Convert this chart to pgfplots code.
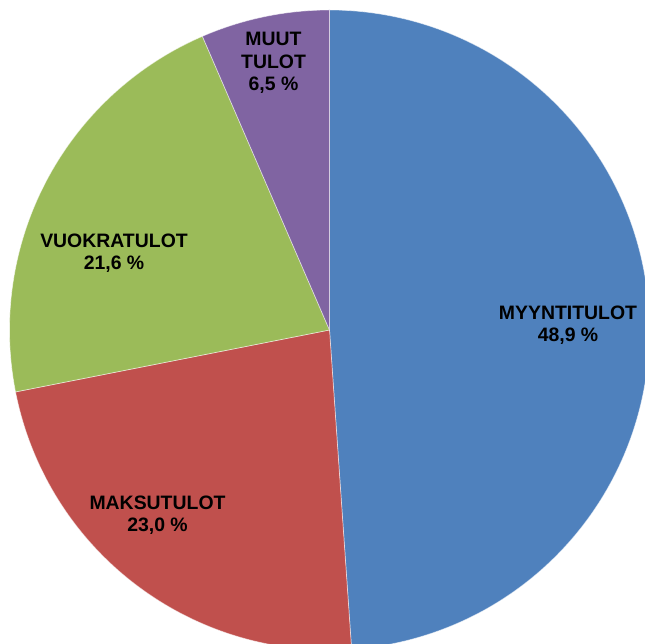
\documentclass[border=0pt]{standalone}
\usepackage{fontspec}
\setmainfont{Liberation Sans}
\usepackage{pgfplots}
\pgfplotsset{compat=1.18}
\definecolor{pieblue}{HTML}{4F81BD}
\definecolor{piered}{HTML}{C0504D}
\definecolor{piegreen}{HTML}{9BBB59}
\definecolor{piepurple}{HTML}{8064A2}
% slice values (percent)
\def\vA{48.9}% MYYNTITULOT
\def\vB{23.0}% MAKSUTULOT
\def\vC{21.6}% VUOKRATULOT
\def\vD{6.5}%  MUUT TULOT
\begin{document}
\begin{tikzpicture}
\pgfmathsetmacro{\aA}{90}
\pgfmathsetmacro{\aB}{\aA-3.6*\vA}
\pgfmathsetmacro{\aC}{\aB-3.6*\vB}
\pgfmathsetmacro{\aD}{\aC-3.6*\vC}
\pgfmathsetmacro{\aE}{\aD-3.6*\vD}
\def\cx{329.5}\def\cy{314}\def\R{320}
\begin{axis}[
  name=pie,
  scale only axis, width=645bp, height=644bp,
  xmin=0, xmax=645, ymin=0, ymax=644,
  hide axis, clip=true,
  every axis plot/.append style={draw=white, draw opacity=0.55, line width=0.7pt, samples=180, variable=\t, no markers},
  nodes={font=\fontsize{19.5}{22.5}\selectfont\bfseries, align=center, text=black}
]
\addplot[fill=pieblue, domain=\aB:\aA] ({\cx+\R*cos(\t)},{\cy+\R*sin(\t)}) -- (axis cs:\cx,\cy) -- cycle;
\addplot[fill=piered, domain=\aC:\aB] ({\cx+\R*cos(\t)},{\cy+\R*sin(\t)}) -- (axis cs:\cx,\cy) -- cycle;
\addplot[fill=piegreen, domain=\aD:\aC] ({\cx+\R*cos(\t)},{\cy+\R*sin(\t)}) -- (axis cs:\cx,\cy) -- cycle;
\addplot[fill=piepurple, domain=\aE:\aD] ({\cx+\R*cos(\t)},{\cy+\R*sin(\t)}) -- (axis cs:\cx,\cy) -- cycle;
\node at (axis cs:568,319) {MYYNTITULOT\\48,9 \%};
\node at (axis cs:157.5,129) {MAKSUTULOT\\23,0 \%};
\node at (axis cs:114,391) {VUOKRATULOT\\21,6 \%};
\node at (axis cs:273.5,581) {MUUT\\TULOT\\6,5 \%};
\end{axis}
\pgfresetboundingbox
\path (pie.south west) rectangle (pie.north east);
\end{tikzpicture}
\end{document}
